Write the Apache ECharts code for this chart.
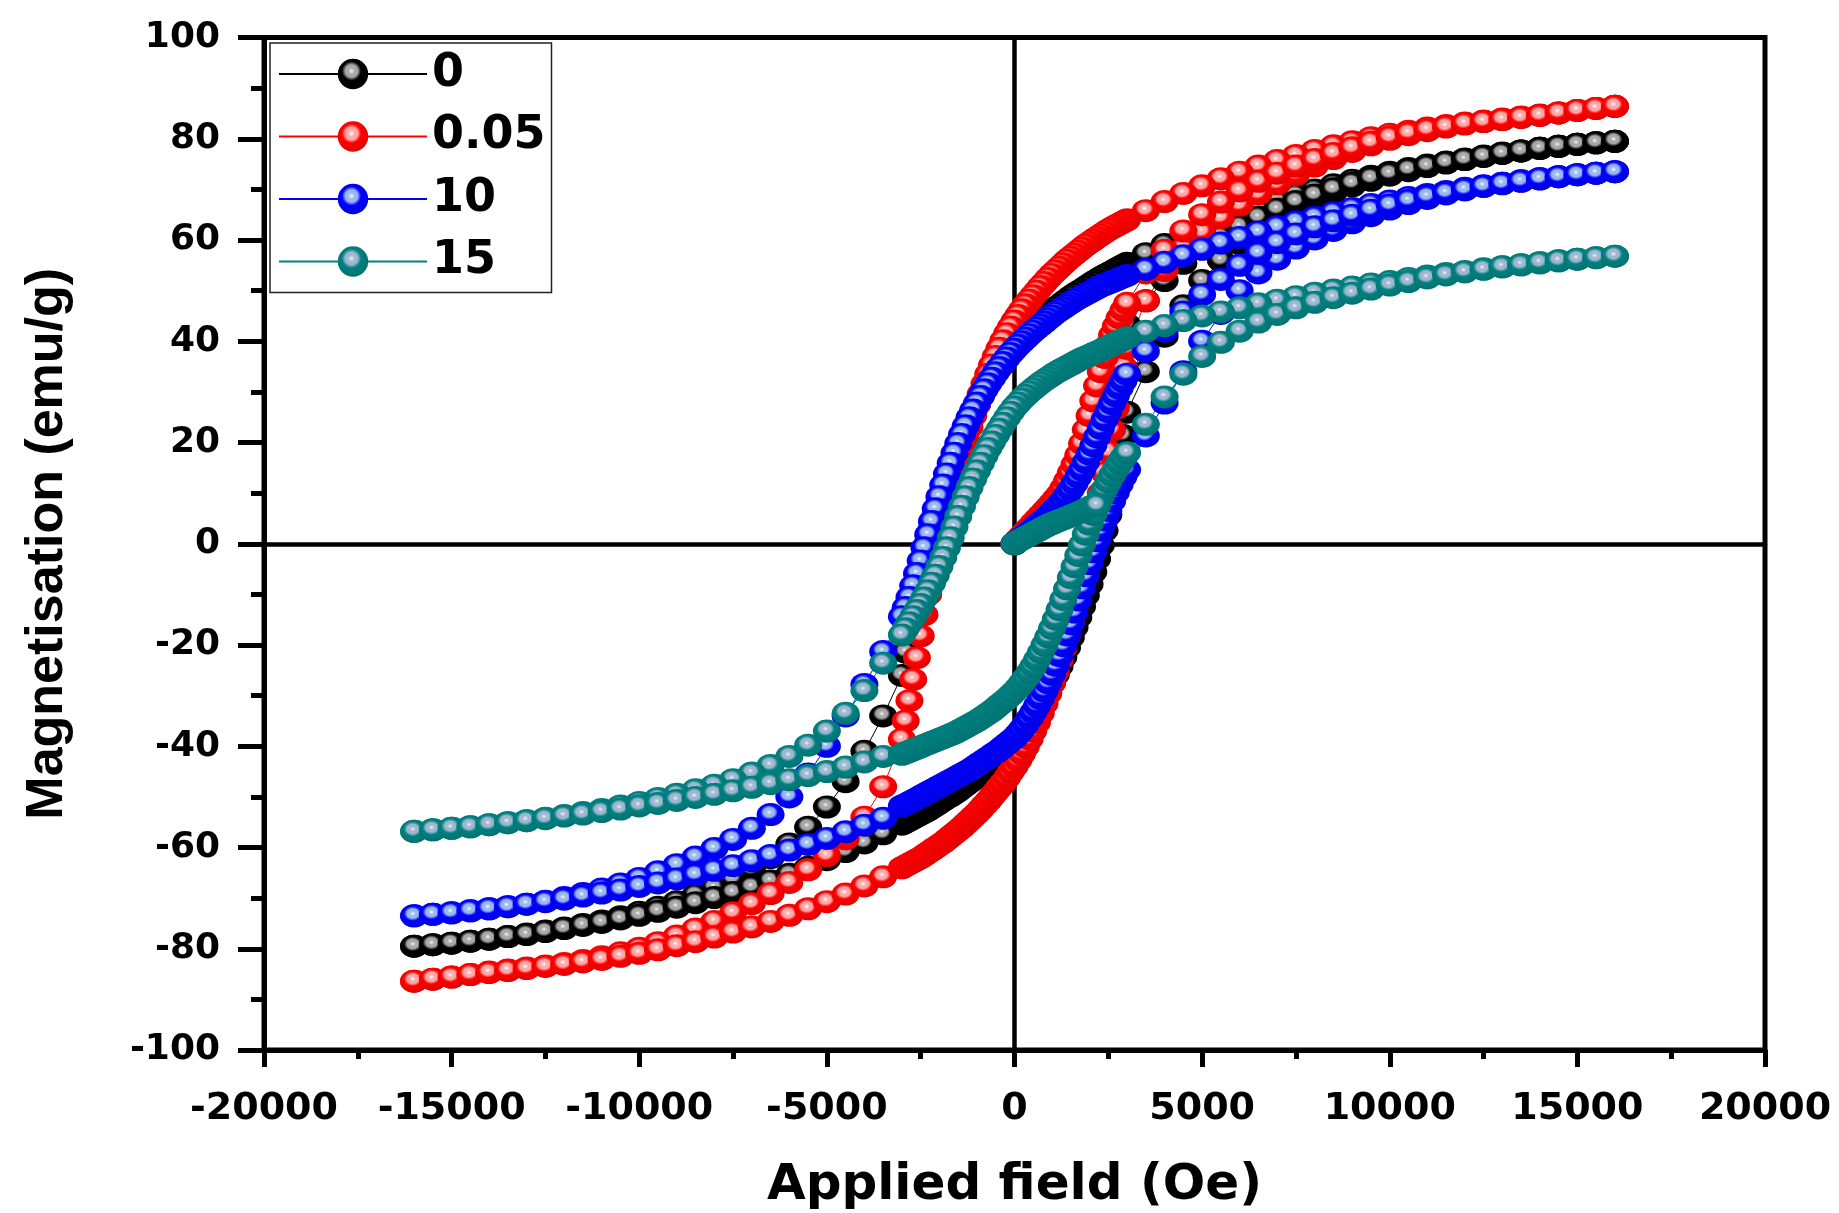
<!DOCTYPE html>
<html><head><meta charset="utf-8">
<script src="https://cdn.jsdelivr.net/npm/echarts@6/dist/echarts.min.js"></script>
<style>html,body{margin:0;padding:0;background:#fff}#c{width:1839px;height:1213px}</style>
</head><body><div id="c"></div>
<script>
// ---- field values (Oe) ----
const H_DESC = [16000,15500,15000,14500,14000,13500,13000,12500,12000,11500,11000,10500,10000,9500,9000,8500,8000,7500,7000,6500,6000,5500,5000,4500,4000,3500,
3000,2900,2800,2700,2600,2500,2400,2300,2200,2100,2000,1900,1800,1700,1600,1500,1400,1300,1200,1100,1000,900,800,700,600,500,400,300,200,100,0,
-100,-200,-300,-400,-500,-600,-700,-800,-900,-1000,-1100,-1200,-1300,-1400,-1500,-1600,-1700,-1800,-1900,-2000,-2100,-2200,-2300,-2400,-2500,-2600,-2700,-2800,-2900,-3000,
-3500,-4000,-4500,-5000,-5500,-6000,-6500,-7000,-7500,-8000,-8500,-9000,-9500,-10000,-10500,-11000,-11500,-12000,-12500,-13000,-13500,-14000,-14500,-15000,-15500,-16000];
const H_ASC = [-16000,-15500,-15000,-14500,-14000,-13500,-13000,-12500,-12000,-11500,-11000,-10500,-10000,-9500,-9000,-8500,-8000,-7500,-7000,-6500,-6000,-5500,-5000,-4500,-4000,-3500,
-3000,-2900,-2800,-2700,-2600,-2500,-2400,-2300,-2200,-2100,-2000,-1900,-1800,-1700,-1600,-1500,-1400,-1300,-1200,-1100,-1000,-900,-800,-700,-600,-500,-400,-300,-200,-100,0,
100,200,300,400,500,600,700,800,900,1000,1100,1200,1300,1400,1500,1600,1700,1800,1900,2000,2100,2200,2300,2400,2500,2600,2700,2800,2900,3000,
3500,4000,4500,5000,5500,6000,6500,7000,7500,8000,8500,9000,9500,10000,10500,11000,11500,12000,12500,13000,13500,14000,14500,15000,15500,16000];
const H_VIRGIN = [0,100,200,300,400,500,600,700,800,900,1000,1100,1200,1300,1400,1500,1600,1700,1800,1900,2000,2100,2200,2300,2400,2500,2600,2700,2800,2900,3000,
3500,4000,4500,5000,5500,6000,6500,7000,7500,8000,8500,9000,9500,10000,10500,11000,11500,12000,12500,13000,13500,14000,14500,15000,15500,16000];

// ---- magnetisation (emu/g) ----
const BLACK_DESC = [79.5,79.2,78.9,78.5,78.1,77.6,77.2,76.6,76.0,75.4,74.8,74.1,73.4,72.6,71.8,70.9,69.9,68.9,67.8,66.6,65.3,63.9,62.4,60.8,59.1,57.3,
55.4,55.0,54.6,54.2,53.8,53.4,53.0,52.6,52.1,51.7,51.2,50.7,50.2,49.8,49.3,48.8,48.2,47.7,47.1,46.6,46.0,45.4,44.8,44.2,43.6,43.0,42.3,41.6,40.9,40.2,39.5,
38.6,37.7,36.7,35.6,34.5,33.3,32.0,30.6,29.1,27.5,25.9,24.2,22.4,20.5,18.5,16.5,14.5,12.4,10.2,8.0,5.6,3.0,0.3,-2.6,-5.7,-9.0,-12.8,-17.0,-21.4,-26.0,
-34.0,-41.0,-47.0,-52.0,-56.0,-59.3,-62.0,-64.3,-66.2,-67.9,-69.4,-70.7,-71.8,-72.8,-73.7,-74.5,-75.2,-75.9,-76.5,-77.1,-77.6,-78.1,-78.5,-78.9,-79.2,-79.5];
const BLACK_ASC = [-79.5,-79.2,-78.9,-78.5,-78.1,-77.6,-77.2,-76.6,-76.0,-75.4,-74.8,-74.1,-73.4,-72.6,-71.8,-70.9,-69.9,-68.9,-67.8,-66.6,-65.3,-63.9,-62.4,-60.8,-59.1,-57.3,
-55.4,-55.0,-54.6,-54.2,-53.8,-53.4,-53.0,-52.6,-52.1,-51.7,-51.2,-50.7,-50.2,-49.8,-49.3,-48.8,-48.2,-47.7,-47.1,-46.6,-46.0,-45.4,-44.8,-44.2,-43.6,-43.0,-42.3,-41.6,-40.9,-40.2,-39.5,
-38.6,-37.7,-36.7,-35.6,-34.5,-33.3,-32.0,-30.6,-29.1,-27.5,-25.9,-24.2,-22.4,-20.5,-18.5,-16.5,-14.5,-12.4,-10.2,-8.0,-5.6,-3.0,-0.3,2.6,5.7,9.0,12.8,17.0,21.4,26.0,
34.0,41.0,47.0,52.0,56.0,59.3,62.0,64.3,66.2,67.9,69.4,70.7,71.8,72.8,73.7,74.5,75.2,75.9,76.5,77.1,77.6,78.1,78.5,78.9,79.2,79.5];
const BLACK_VIRGIN = [0,0.7,1.4,2.1,2.8,3.5,4.2,4.9,5.6,6.4,7.2,8.0,8.9,9.9,11.1,12.5,14.1,15.9,17.9,20.2,22.7,25.3,27.9,30.4,32.8,35.0,37.0,38.8,40.4,41.9,43.3,
48.0,52.0,55.4,58.2,60.6,62.7,64.5,66.1,67.6,68.9,70.1,71.2,72.2,73.1,73.9,74.6,75.3,75.9,76.5,77.1,77.6,78.1,78.5,78.9,79.2,79.5];

const RED_DESC = [86.4,86.0,85.6,85.1,84.7,84.3,83.9,83.5,83.1,82.6,82.1,81.5,80.9,80.2,79.4,78.6,77.7,76.7,75.7,74.6,73.4,72.1,70.7,69.2,67.6,65.8,
64.0,63.6,63.2,62.8,62.4,62.0,61.5,61.0,60.5,60.0,59.5,59.0,58.4,57.8,57.2,56.6,56.0,55.3,54.6,53.9,53.2,52.4,51.6,50.8,49.9,49.0,48.1,47.2,46.2,45.1,44.0,
42.8,41.5,40.1,38.6,37.0,35.3,33.5,31.6,29.6,27.5,25.3,23.0,20.6,18.1,15.5,12.7,9.8,6.8,3.7,0.5,-2.8,-6.3,-10.0,-14.0,-18.2,-22.5,-26.8,-31.0,-35.0,-38.6,
-48.0,-54.0,-58.3,-61.6,-64.4,-66.9,-69.1,-71.1,-72.9,-74.6,-76.1,-77.5,-78.8,-79.9,-80.8,-81.6,-82.3,-82.9,-83.4,-83.8,-84.2,-84.6,-85.1,-85.6,-86.0,-86.4];
const RED_ASC = [-86.4,-86.0,-85.6,-85.1,-84.7,-84.3,-83.9,-83.5,-83.1,-82.6,-82.1,-81.5,-80.9,-80.2,-79.4,-78.6,-77.7,-76.7,-75.7,-74.6,-73.4,-72.1,-70.7,-69.2,-67.6,-65.8,
-64.0,-63.6,-63.2,-62.8,-62.4,-62.0,-61.5,-61.0,-60.5,-60.0,-59.5,-59.0,-58.4,-57.8,-57.2,-56.6,-56.0,-55.3,-54.6,-53.9,-53.2,-52.4,-51.6,-50.8,-49.9,-49.0,-48.1,-47.2,-46.2,-45.1,-44.0,
-42.8,-41.5,-40.1,-38.6,-37.0,-35.3,-33.5,-31.6,-29.6,-27.5,-25.3,-23.0,-20.6,-18.1,-15.5,-12.7,-9.8,-6.8,-3.7,-0.5,2.8,6.3,10.0,14.0,18.2,22.5,26.8,31.0,35.0,38.6,
48.0,54.0,58.3,61.6,64.4,66.9,69.1,71.1,72.9,74.6,76.1,77.5,78.8,79.9,80.8,81.6,82.3,82.9,83.4,83.8,84.2,84.6,85.1,85.6,86.0,86.4];
const RED_VIRGIN = [0,0.8,1.6,2.4,3.2,4.0,4.8,5.6,6.4,7.2,8.0,8.9,9.8,11.0,12.4,14.0,15.7,17.5,19.8,22.5,25.3,28.2,31.2,34.0,36.8,39.2,41.2,43.0,44.6,46.1,47.5,
53.5,58.0,61.8,65.0,67.5,69.7,71.6,73.2,74.6,75.9,77.1,78.2,79.3,80.3,81.1,81.8,82.4,83.0,83.4,83.8,84.2,84.6,85.1,85.6,86.0,86.4];

const BLUE_DESC = [73.5,73.2,72.9,72.5,72.1,71.7,71.2,70.7,70.2,69.6,69.0,68.4,67.7,67.0,66.2,65.4,64.5,63.6,62.6,61.6,60.5,59.4,58.2,56.9,55.6,54.2,
53.0,52.7,52.4,52.1,51.8,51.5,51.2,50.9,50.5,50.1,49.7,49.3,48.9,48.5,48.1,47.6,47.1,46.6,46.1,45.6,45.0,44.4,43.8,43.2,42.6,42.0,41.3,40.6,39.9,39.2,38.4,
37.6,36.7,35.8,34.8,33.8,32.7,31.6,30.4,29.1,27.8,26.4,24.9,23.3,21.6,19.8,17.9,15.9,13.8,11.6,9.3,6.9,4.4,1.8,-0.8,-3.4,-5.9,-8.3,-10.6,-12.6,-14.4,
-21.3,-27.8,-34.0,-40.0,-45.5,-50.0,-53.5,-56.2,-58.4,-60.2,-61.9,-63.4,-64.8,-66.1,-67.2,-68.2,-69.1,-69.9,-70.6,-71.2,-71.7,-72.1,-72.5,-72.9,-73.2,-73.5];
const BLUE_ASC = [-73.5,-73.2,-72.9,-72.5,-72.1,-71.7,-71.2,-70.7,-70.2,-69.6,-69.0,-68.4,-67.7,-67.0,-66.2,-65.4,-64.5,-63.6,-62.6,-61.6,-60.5,-59.4,-58.2,-56.9,-55.6,-54.2,
-51.8,-51.5,-51.1,-50.7,-50.3,-49.9,-49.5,-49.1,-48.7,-48.3,-47.9,-47.5,-47.1,-46.7,-46.3,-45.9,-45.5,-45.1,-44.7,-44.2,-43.7,-43.2,-42.7,-42.2,-41.7,-41.2,-40.7,-40.1,-39.5,-38.9,-38.3,
-37.5,-36.6,-35.6,-34.5,-33.3,-32.0,-30.6,-29.1,-27.5,-25.8,-24.0,-22.1,-20.1,-18.0,-15.8,-13.5,-11.1,-8.7,-6.3,-3.9,-1.6,0.6,2.7,4.7,6.6,8.4,10.1,11.7,13.2,14.6,
21.3,27.8,34.0,40.0,45.5,50.0,53.5,56.2,58.4,60.2,61.9,63.4,64.8,66.1,67.2,68.2,69.1,69.9,70.6,71.2,71.7,72.1,72.5,72.9,73.2,73.5];
const BLUE_VIRGIN = [0,0.6,1.2,1.8,2.4,3.0,3.6,4.2,4.8,5.5,6.2,6.9,7.7,8.6,9.6,10.7,11.9,13.2,14.6,16.1,17.7,19.4,21.1,22.8,24.5,26.1,27.7,29.2,30.7,32.1,33.5,
38.0,42.0,45.8,49.2,52.2,55.0,57.4,59.5,61.2,62.6,63.8,64.9,65.9,66.9,67.8,68.6,69.3,70.0,70.6,71.1,71.6,72.1,72.5,72.9,73.2,73.5];

const TEAL_DESC = [56.8,56.5,56.2,55.9,55.5,55.1,54.7,54.3,53.8,53.4,52.9,52.4,51.8,51.3,50.7,50.1,49.5,48.8,48.1,47.4,46.6,45.8,45.0,44.1,43.1,42.0,
40.7,40.3,40.0,39.6,39.3,38.9,38.6,38.2,37.9,37.6,37.2,36.9,36.6,36.2,35.8,35.4,35.0,34.6,34.2,33.8,33.3,32.8,32.3,31.8,31.2,30.6,30.0,29.3,28.6,27.8,27.0,
26.0,24.9,23.8,22.6,21.4,20.1,18.8,17.4,15.9,14.4,12.8,11.1,9.3,7.4,5.4,3.3,1.2,-0.8,-2.7,-4.5,-6.2,-7.8,-9.3,-10.7,-12.0,-13.2,-14.4,-15.6,-16.8,-18.0,
-23.6,-29.0,-33.5,-37.0,-39.8,-42.0,-43.8,-45.3,-46.6,-47.7,-48.6,-49.5,-50.3,-51.1,-51.8,-52.5,-53.1,-53.7,-54.2,-54.7,-55.1,-55.5,-55.9,-56.2,-56.5,-56.8];
const TEAL_ASC = [-56.8,-56.5,-56.2,-55.9,-55.5,-55.1,-54.7,-54.3,-53.8,-53.4,-52.9,-52.4,-51.8,-51.3,-50.7,-50.1,-49.5,-48.8,-48.1,-47.4,-46.6,-45.8,-45.0,-44.1,-43.1,-42.0,
-41.6,-41.3,-41.0,-40.7,-40.4,-40.1,-39.8,-39.5,-39.2,-38.9,-38.6,-38.3,-38.0,-37.7,-37.4,-37.0,-36.6,-36.2,-35.8,-35.4,-35.0,-34.5,-34.0,-33.5,-33.0,-32.4,-31.8,-31.2,-30.6,-29.9,-29.2,
-28.4,-27.5,-26.5,-25.4,-24.2,-22.9,-21.5,-20.0,-18.4,-16.7,-14.9,-13.0,-11.0,-8.9,-6.7,-4.5,-2.3,-0.2,1.9,3.9,5.8,7.6,9.3,10.8,12.2,13.5,14.7,15.9,17.0,18.0,
23.6,29.0,33.5,37.0,39.8,42.0,43.8,45.3,46.6,47.7,48.6,49.5,50.3,51.1,51.8,52.5,53.1,53.7,54.2,54.7,55.1,55.5,55.9,56.2,56.5,56.8];
const TEAL_VIRGIN = [0,0.5,0.9,1.3,1.7,2.1,2.5,2.9,3.3,3.7,4.0,4.3,4.6,4.9,5.2,5.5,5.8,6.1,6.4,6.8,7.2,7.5,7.6];

const NAMES = ['0', '0.05', '10', '15'];
const X_TICKS = [-20000, 20000, 5000];
const Y_TICKS = [-100, 100, 20];

// ---- styling ----
const BALL = [
  {base: '#000000', edge: '#000000', mid: '#a8a8a8', hi: '#f2f2f2'},
  {base: '#ff0000', edge: '#e60000', mid: '#ffa8a8', hi: '#ffffff'},
  {base: '#0000ff', edge: '#0000e6', mid: '#9ab8f0', hi: '#eef6ff'},
  {base: '#008080', edge: '#007474', mid: '#9fb8d0', hi: '#e6f0f8'}
];
function ballFill(c) {
  return {type: 'radial', x: 0.45, y: 0.4, r: 0.56, colorStops: [
    {offset: 0, color: c.hi}, {offset: 0.2, color: c.mid}, {offset: 0.36, color: c.mid},
    {offset: 0.56, color: c.base}, {offset: 1, color: c.edge}]};
}
function zip(h, m) { const out = []; for (let i = 0; i < m.length; i++) out.push([h[i], m[i]]); return out; }

const LOOPS = [
  [BLACK_DESC, BLACK_ASC, BLACK_VIRGIN],
  [RED_DESC, RED_ASC, RED_VIRGIN],
  [BLUE_DESC, BLUE_ASC, BLUE_VIRGIN],
  [TEAL_DESC, TEAL_ASC, TEAL_VIRGIN]
];

const series = [];
LOOPS.forEach(function (loop, i) {
  const common = {
    type: 'line', name: NAMES[i], symbol: 'circle', symbolSize: [28, 23],
    itemStyle: {color: ballFill(BALL[i])},
    lineStyle: {color: BALL[i].base, width: 1},
    emphasis: {disabled: true}, silent: true, animation: false, z: 2
  };
  series.push(Object.assign({}, common, {data: zip(H_DESC, loop[0]).concat(zip(H_ASC, loop[1]))}));
  series.push(Object.assign({}, common, {data: zip(H_VIRGIN, loop[2])}));
});

const tickFont = {fontFamily: 'DejaVu Sans', fontWeight: 'bold', color: '#000'};
const plain = function (v) { return String(v); };
const chart = echarts.init(document.getElementById('c'), null, {renderer: 'canvas'});
chart.setOption({
  animation: false,
  backgroundColor: '#ffffff',
  grid: {left: 264, right: 74, top: 37.5, bottom: 163, show: true, borderColor: '#000', borderWidth: 5,
         containLabel: false, outerBoundsMode: 'none'},
  legend: {
    data: NAMES, orient: 'vertical', left: 270, top: 43,
    itemWidth: 148, itemHeight: 38, itemGap: 16.5,
    padding: [8, 6, 8, 8], borderColor: '#222', borderWidth: 1.5, backgroundColor: '#fff',
    textStyle: {fontFamily: 'DejaVu Sans', fontWeight: 'bold', fontSize: 46, color: '#000'},
    selectedMode: false
  },
  xAxis: [{
    type: 'value', min: X_TICKS[0], max: X_TICKS[1], interval: X_TICKS[2], position: 'bottom',
    axisLine: {onZero: false, lineStyle: {color: '#000', width: 5}},
    axisTick: {show: true, inside: false, length: 17, lineStyle: {color: '#000', width: 5}},
    minorTick: {show: true, splitNumber: 2, length: 9, lineStyle: {color: '#000', width: 5}},
    splitLine: {show: false}, minorSplitLine: {show: false},
    axisLabel: Object.assign({fontSize: 38, margin: 40, formatter: plain}, tickFont),
    name: 'Applied field (Oe)', nameLocation: 'middle', nameGap: 111,
    nameTextStyle: {fontFamily: 'DejaVu Sans', fontWeight: 'bold', fontSize: 50, color: '#000'}
  }, {
    type: 'value', min: X_TICKS[0], max: X_TICKS[1], interval: X_TICKS[2], position: 'bottom',
    axisLine: {onZero: true, onZeroAxisIndex: 0, lineStyle: {color: '#000', width: 4.5}},
    axisTick: {show: false}, axisLabel: {show: false}, splitLine: {show: false}
  }],
  yAxis: [{
    type: 'value', min: Y_TICKS[0], max: Y_TICKS[1], interval: Y_TICKS[2], position: 'left',
    axisLine: {onZero: false, lineStyle: {color: '#000', width: 5}},
    axisTick: {show: true, inside: false, length: 26, lineStyle: {color: '#000', width: 5}},
    minorTick: {show: true, splitNumber: 2, length: 13, lineStyle: {color: '#000', width: 5}},
    splitLine: {show: false}, minorSplitLine: {show: false},
    axisLabel: Object.assign({fontSize: 36, margin: 44, formatter: plain}, tickFont),
    name: 'Magnetisation (emu/g)', nameLocation: 'middle', nameGap: 190,
    nameTextStyle: {fontFamily: 'Liberation Sans, Arial, sans-serif', fontWeight: 'bold', fontSize: 52, color: '#000'}
  }, {
    type: 'value', min: Y_TICKS[0], max: Y_TICKS[1], interval: Y_TICKS[2], position: 'left',
    axisLine: {onZero: true, onZeroAxisIndex: 0, lineStyle: {color: '#000', width: 4.5}},
    axisTick: {show: false}, axisLabel: {show: false}, splitLine: {show: false}
  }],
  series: series
});
</script>
</body></html>
